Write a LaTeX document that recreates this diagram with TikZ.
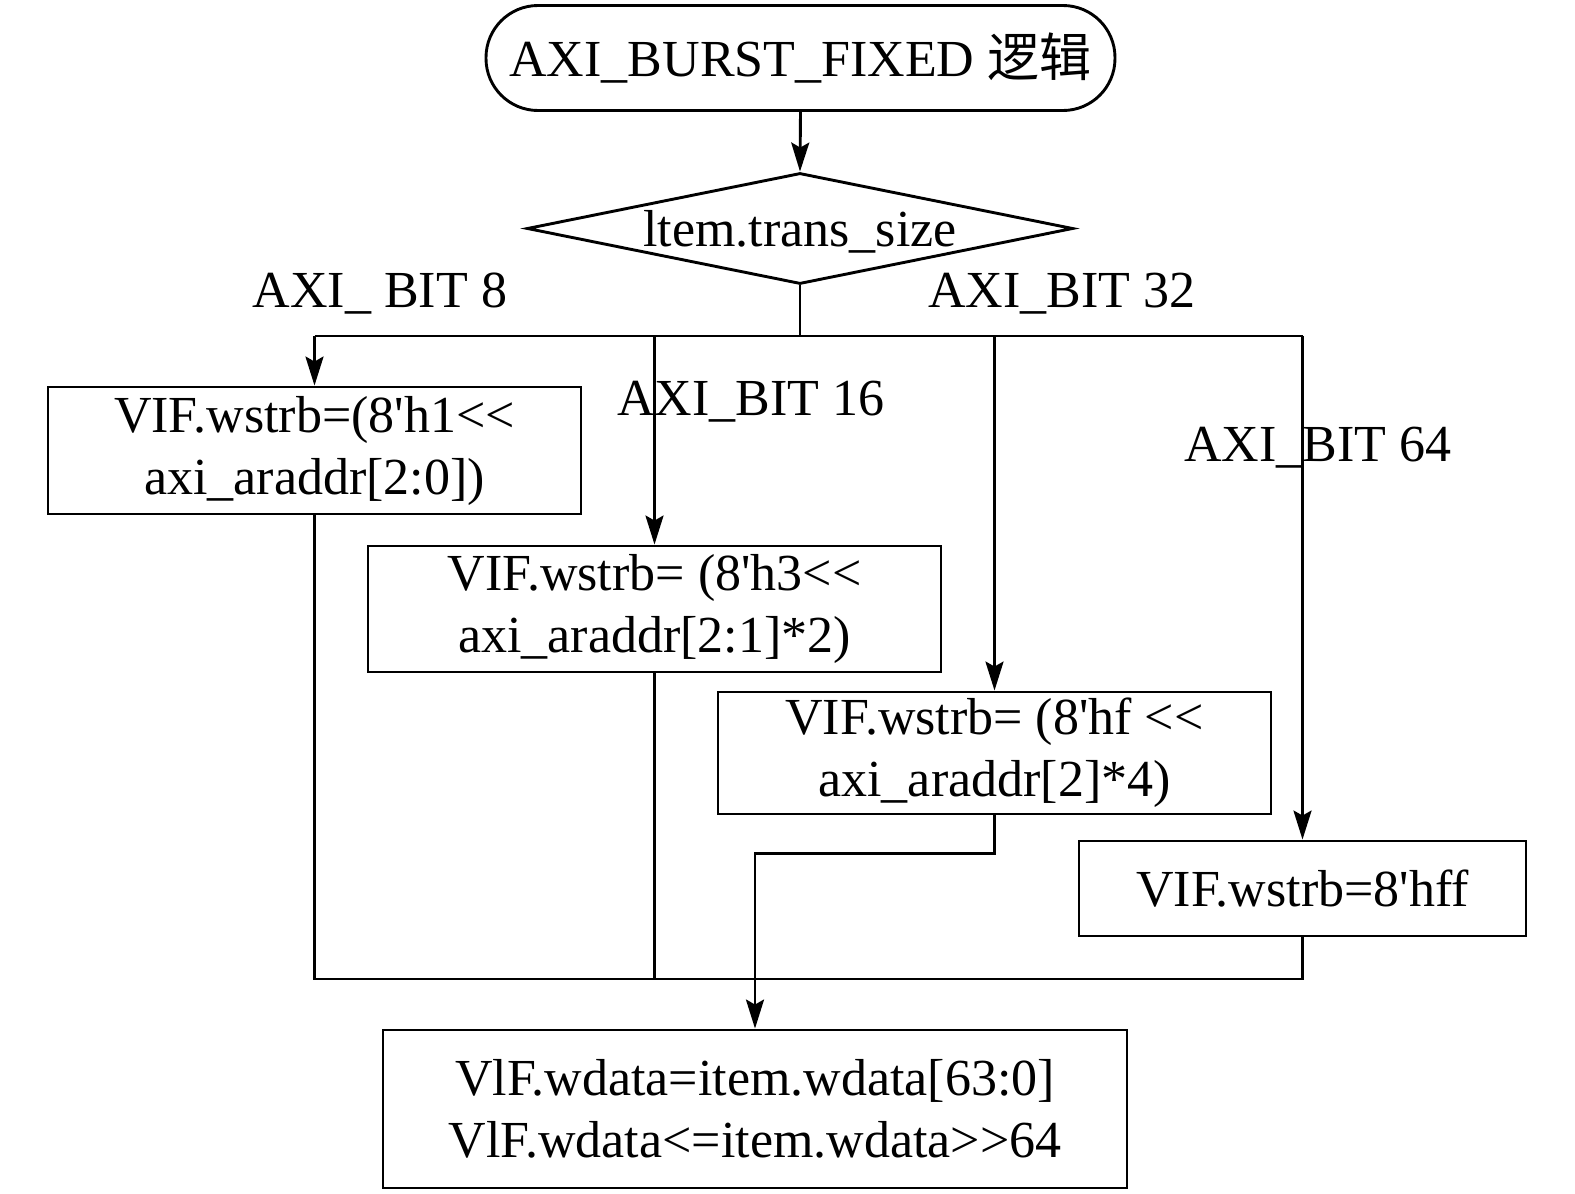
\documentclass[tikz,border=0pt]{standalone}
\usepackage{fontspec}
\setmainfont{Liberation Serif}
\newfontfamily\cjk{Noto Sans CJK SC}
\usetikzlibrary{shapes.geometric,arrows.meta}
\newcommand{\qt}{\textquotesingle}
\begin{document}
\begin{tikzpicture}[x=1pt,y=-1pt,line width=2.9pt,
  txt/.style={font=\fontsize{52}{62}\selectfont},
  box/.style={draw,rectangle,inner sep=0pt,align=center,txt},
  arr/.style={-{Stealth[length=29pt,width=18pt,inset=5pt]}},
  lbl/.style={inner sep=0pt,txt}]
\useasboundingbox (0,0) rectangle (1575,1194);
% nodes
\node[box,rounded corners=52pt,minimum width=629pt,minimum height=105pt] (t) at (800.5,58) {AXI\_BURST\_FIXED {\cjk 逻辑}};
\node[draw,diamond,inner sep=0pt,aspect=4.92,minimum width=546pt,minimum height=111pt] (d) at (800,228.5) {};
\node[lbl] (dt) at ([yshift=-3pt]d.center) {ltem.trans\_size};
\node[box,minimum width=533pt,minimum height=127pt] (b1) at (314.5,450.5) {VIF.wstrb=(8\qt h1<{}<\\axi\_araddr[2:0])};
\node[box,minimum width=573pt,minimum height=126pt] (b2) at (654.5,609) {VIF.wstrb= (8\qt h3<{}<\\axi\_araddr[2:1]*2)};
\node[box,minimum width=553pt,minimum height=122pt] (b3) at (994.5,753) {VIF.wstrb= (8\qt hf <{}<\\axi\_araddr[2]*4)};
\node[box,minimum width=447pt,minimum height=95pt] (b4) at (1302.5,888.5) {VIF.wstrb=8\qt hff};
\node[box,minimum width=744pt,minimum height=158pt] (b5) at (755,1109) {VlF.wdata=item.wdata[63:0]\\VlF.wdata<=item.wdata>{}>64};
% labels
\node[lbl] (l8) at (380,294) {AXI\_ BIT 8};
\node[lbl] (l16) at (751,402) {AXI\_BIT 16};
\node[lbl] (l32) at (1062,294) {AXI\_BIT 32};
\node[lbl] (l64) at (1318,448) {AXI\_BIT 64};
% connectors
\draw[arr] (t.south) -- (d.north);
\draw (d.south) -- ++(0,50.5) coordinate (j);
\draw (b1.north |- j) -- (b4.north |- j);
\draw[arr] (b1.north |- j) -- (b1.north);
\draw[arr] (b2.north |- j) -- (b2.north);
\draw[arr] (b3.north |- j) -- (b3.north);
\draw[arr] (b4.north |- j) -- (b4.north);
\coordinate (m) at (0,979);
\draw (b1.south) -- (b1.south |- m) -- (b4.south |- m) -- (b4.south);
\draw (b2.south) -- (b2.south |- m);
\draw[arr] (b3.south) -- ++(0,38) -| (b5.north);
\end{tikzpicture}
\end{document}
